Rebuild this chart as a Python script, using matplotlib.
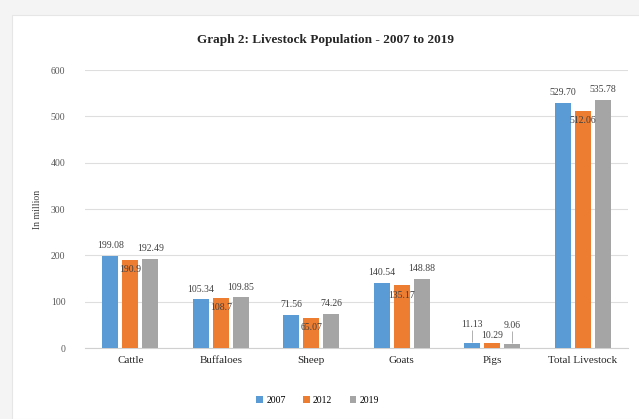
import matplotlib.pyplot as plt
from matplotlib.patches import Rectangle
import numpy as np

plt.rcParams["font.family"] = ["Liberation Serif", "DejaVu Serif"]

categories = ["Cattle", "Buffaloes", "Sheep", "Goats", "Pigs", "Total Livestock"]
years = ["2007", "2012", "2019"]
v2007 = [199.08, 105.34, 71.56, 140.54, 11.13, 529.70]
v2012 = [190.9, 108.7, 65.07, 135.17, 10.29, 512.06]
v2019 = [192.49, 109.85, 74.26, 148.88, 9.06, 535.78]
colors = ["#5B9BD5", "#ED7D31", "#A5A5A5"]

fig = plt.figure(figsize=(6.39, 4.19), dpi=100)
fig.patch.set_facecolor("#f4f4f4")
# white chart area behind everything
fig.add_artist(Rectangle((12 / 639, 0), 1, 1 - 15 / 419, transform=fig.transFigure,
                         facecolor="white", edgecolor="#e6e6e6", lw=0.8, zorder=-10))

ax = fig.add_axes([85 / 639, 71 / 419, 543 / 639, 278 / 419])
ax.set_facecolor("none")

x = np.arange(len(categories))
width = 0.176
pitch = 0.22
series = [v2007, v2012, v2019]

bars = []
for i, vals in enumerate(series):
    b = ax.bar(x + (i - 1) * pitch, vals, width, color=colors[i], label=years[i], zorder=3)
    bars.append(b)

lab_kw = dict(ha="center", fontsize=7, color="#404040")
for j in range(len(categories)):
    if categories[j] == "Pigs":
        # small bars: labels lifted with leader lines
        for i, vals in enumerate(series):
            xi = x[j] + (i - 1) * pitch
            dy = 2 if i == 1 else 10
            txt = ("%.2f" % vals[j]) if i != 1 else str(vals[j])
            ax.annotate(txt, (xi, vals[j]), xytext=(0, dy), textcoords="offset points",
                        va="bottom", **lab_kw)
            if i != 1:
                ax.vlines(xi, vals[j] + 2, vals[j] + 28, color="#b0b0b0", lw=0.7, zorder=4)
        continue
    for i in (0, 2):
        vals = series[i]
        ax.annotate("%.2f" % vals[j], (x[j] + (i - 1) * pitch, vals[j]), xytext=(0, 4),
                    textcoords="offset points", va="bottom", **lab_kw)
    ax.annotate(str(v2012[j]), (x[j], v2012[j]), xytext=(0, -7),
                textcoords="offset points", va="center", **lab_kw)

ax.set_ylim(0, 600)
ax.set_xlim(-0.5, len(categories) - 0.5)
ax.set_yticks(range(0, 601, 100))
ax.yaxis.grid(True, color="#dedede", lw=0.8, zorder=0)
ax.set_axisbelow(True)
for s in ["top", "right", "left"]:
    ax.spines[s].set_visible(False)
ax.spines["bottom"].set_color("#d0d0d0")
ax.tick_params(axis="both", length=0)
ax.tick_params(axis="y", labelsize=7, labelcolor="#595959", pad=14)
ax.set_xticks(x)
ax.set_xticklabels(categories, fontsize=8, color="#262626")
ax.tick_params(axis="x", pad=6)
ax.set_ylabel("In million", fontsize=7, color="#404040", labelpad=6)

fig.text(0.51, 1 - 40 / 419, "Graph 2: Livestock Population - 2007 to 2019",
         ha="center", va="center", fontsize=9.5, fontweight="bold", color="#262626")

fig.legend(handles=bars, labels=years, loc="center", bbox_to_anchor=(0.497, 19 / 419),
           ncol=3, frameon=False, fontsize=7, handlelength=0.7, handleheight=0.7,
           handletextpad=0.3, columnspacing=1.8)

plt.savefig("out.png", dpi=100, facecolor=fig.get_facecolor())
